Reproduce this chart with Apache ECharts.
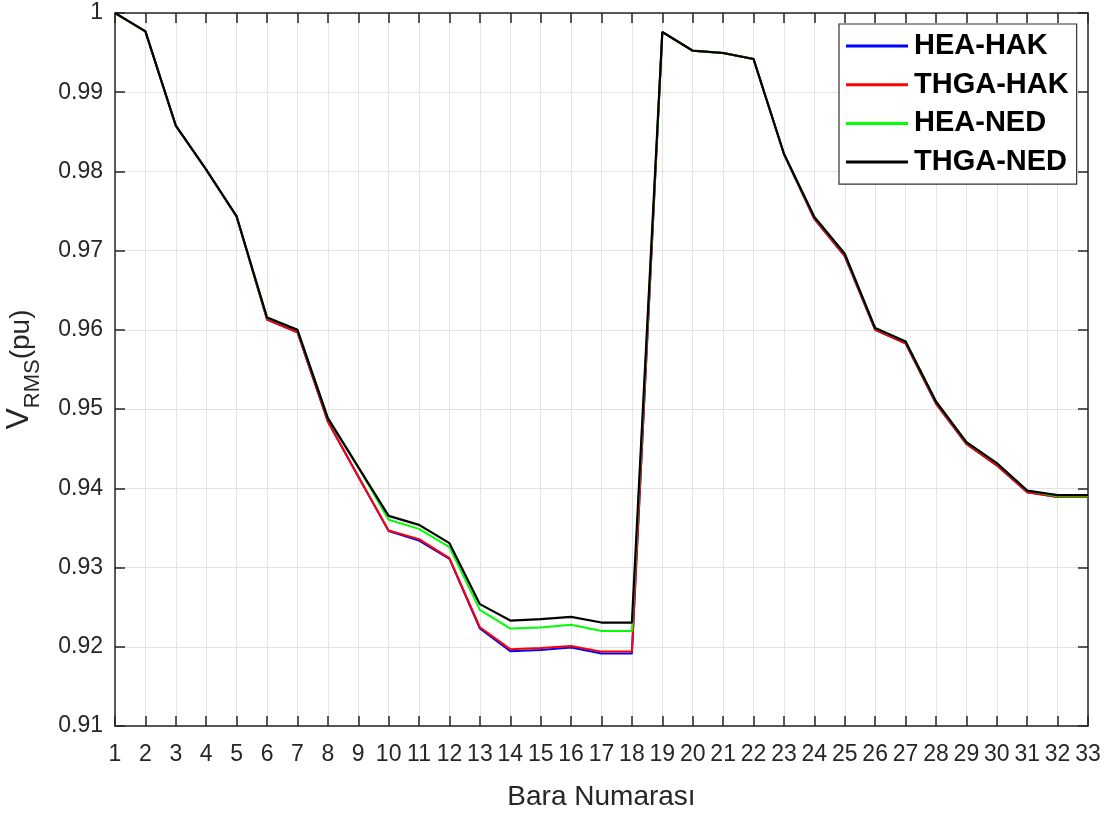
<!DOCTYPE html>
<html>
<head>
<meta charset="utf-8">
<script src="https://cdn.jsdelivr.net/npm/echarts@6/dist/echarts.min.js"></script>
<style>html,body{margin:0;padding:0;background:#fff;}#c{width:1112px;height:814px;}</style>
</head>
<body>
<div id="c"></div>
<script>
const buses = [1,2,3,4,5,6,7,8,9,10,11,12,13,14,15,16,17,18,19,20,21,22,23,24,25,26,27,28,29,30,31,32,33];
const seriesNames = ['HEA-HAK','THGA-HAK','HEA-NED','THGA-NED'];
const heaHak  = [1.0,0.99768,0.98577,0.98022,0.97432,0.9613,0.9597,0.94843,0.94149,0.9346,0.9334,0.9311,0.9223,0.91944,0.9196,0.9199,0.91914,0.91914,0.9976,0.99524,0.99495,0.99419,0.9822,0.9740,0.9693,0.9600,0.9583,0.9507,0.9456,0.9429,0.9395,0.9389,0.9389];
const thgaHak = [1.0,0.99768,0.98577,0.98022,0.97432,0.9613,0.9597,0.94843,0.94149,0.93467,0.93359,0.93119,0.92247,0.9197,0.91986,0.92011,0.91939,0.91939,0.9976,0.99524,0.99495,0.99419,0.9822,0.9740,0.9693,0.9600,0.9583,0.9507,0.9456,0.9429,0.9395,0.9389,0.9389];
const heaNed  = [1.0,0.99768,0.98577,0.98022,0.97432,0.96157,0.9600,0.94886,0.94268,0.93603,0.93488,0.93258,0.92466,0.9223,0.92242,0.92277,0.922,0.922,0.9976,0.99524,0.99495,0.99419,0.98223,0.97424,0.96961,0.96023,0.95854,0.95096,0.94583,0.94318,0.93972,0.9390,0.9390];
const thgaNed = [1.0,0.99768,0.98577,0.98022,0.97432,0.96157,0.9600,0.94886,0.94268,0.93653,0.93539,0.93308,0.92538,0.92331,0.92348,0.92377,0.92306,0.92306,0.9976,0.99524,0.99495,0.99419,0.98223,0.97424,0.96961,0.96023,0.95854,0.95096,0.94583,0.94318,0.93972,0.93914,0.93914];
const colors = ['#0000ff','#ff0000','#00ff00','#000000'];
const yMin = 0.91, yMax = 1.0, yStep = 0.01;

const chart = echarts.init(document.getElementById('c'), null, {renderer:'canvas'});
const axisColor = '#262626';
const font = 'Liberation Sans, Arial, Helvetica, sans-serif';
const pair = arr => buses.map((b,i)=>[b, arr[i]]);
const allData = [heaHak, thgaHak, heaNed, thgaNed];

const baseX = {
  type:'value', min:1, max:33, interval:1,
  axisLine:{show:true, onZero:false, lineStyle:{color:axisColor, width:1.5}},
  axisTick:{show:true, inside:true, length:10, lineStyle:{color:axisColor, width:1.5}},
  splitLine:{show:false}
};
const baseY = {
  type:'value', min:yMin, max:yMax, interval:yStep,
  axisLine:{show:true, onZero:false, lineStyle:{color:axisColor, width:1.5}},
  axisTick:{show:true, inside:true, length:10, lineStyle:{color:axisColor, width:1.5}},
  splitLine:{show:false}
};

chart.setOption({
  animation:false,
  backgroundColor:'#ffffff',
  grid:{left:115, right:24, top:13, bottom:88, containLabel:false, outerBoundsMode:'none'},
  legend:{
    orient:'vertical', left:839, top:24,
    data:seriesNames,
    icon:'rect', itemWidth:62, itemHeight:3, itemGap:8.7,
    padding:[7,8,7,7],
    backgroundColor:'#ffffff', borderColor:'#333333', borderWidth:1.2, borderRadius:0,
    textStyle:{fontFamily:font, fontWeight:'bold', fontSize:29, color:'#000', lineHeight:30, padding:[0,0,0,1]}
  },
  xAxis:[
    Object.assign({}, baseX, {
      position:'bottom',
      name:'Bara Numarası', nameLocation:'middle', nameGap:57,
      nameTextStyle:{fontFamily:font, fontSize:28, color:axisColor},
      splitLine:{show:true, lineStyle:{color:'#e3e3e3', width:1}},
      axisLabel:{fontFamily:font, fontSize:23, color:axisColor, margin:17}
    }),
    Object.assign({}, baseX, {position:'top', axisLabel:{show:false}})
  ],
  yAxis:[
    Object.assign({}, baseY, {
      position:'left',
      name:'{v|V}{b|RMS}{a|(pu)}', nameLocation:'middle', nameGap:80, nameRotate:90,
      nameTextStyle:{
        rich:{
          v:{fontFamily:font, fontSize:32, color:axisColor, verticalAlign:'bottom', lineHeight:34},
          a:{fontFamily:font, fontSize:28, color:axisColor, verticalAlign:'bottom', lineHeight:34},
          b:{fontFamily:font, fontSize:22, color:axisColor, verticalAlign:'bottom', lineHeight:34, padding:[0,0,-9,0]}
        }
      },
      splitLine:{show:true, lineStyle:{color:'#e3e3e3', width:1}},
      axisLabel:{fontFamily:font, fontSize:23, color:axisColor, margin:12,
        formatter: v => (Math.abs(v-1)<1e-9 ? '1' : (+v.toFixed(2)).toString())}
    }),
    Object.assign({}, baseY, {position:'right', axisLabel:{show:false}})
  ],
  series: seriesNames.map((n,i)=>({
    name:n, type:'line', data:pair(allData[i]),
    xAxisIndex:0, yAxisIndex:0,
    showSymbol:false, symbol:'none',
    lineStyle:{color:colors[i], width: i===3 ? 2.2 : 2},
    itemStyle:{color:colors[i]},
    z: 2+i
  }))
});
</script>
</body>
</html>
